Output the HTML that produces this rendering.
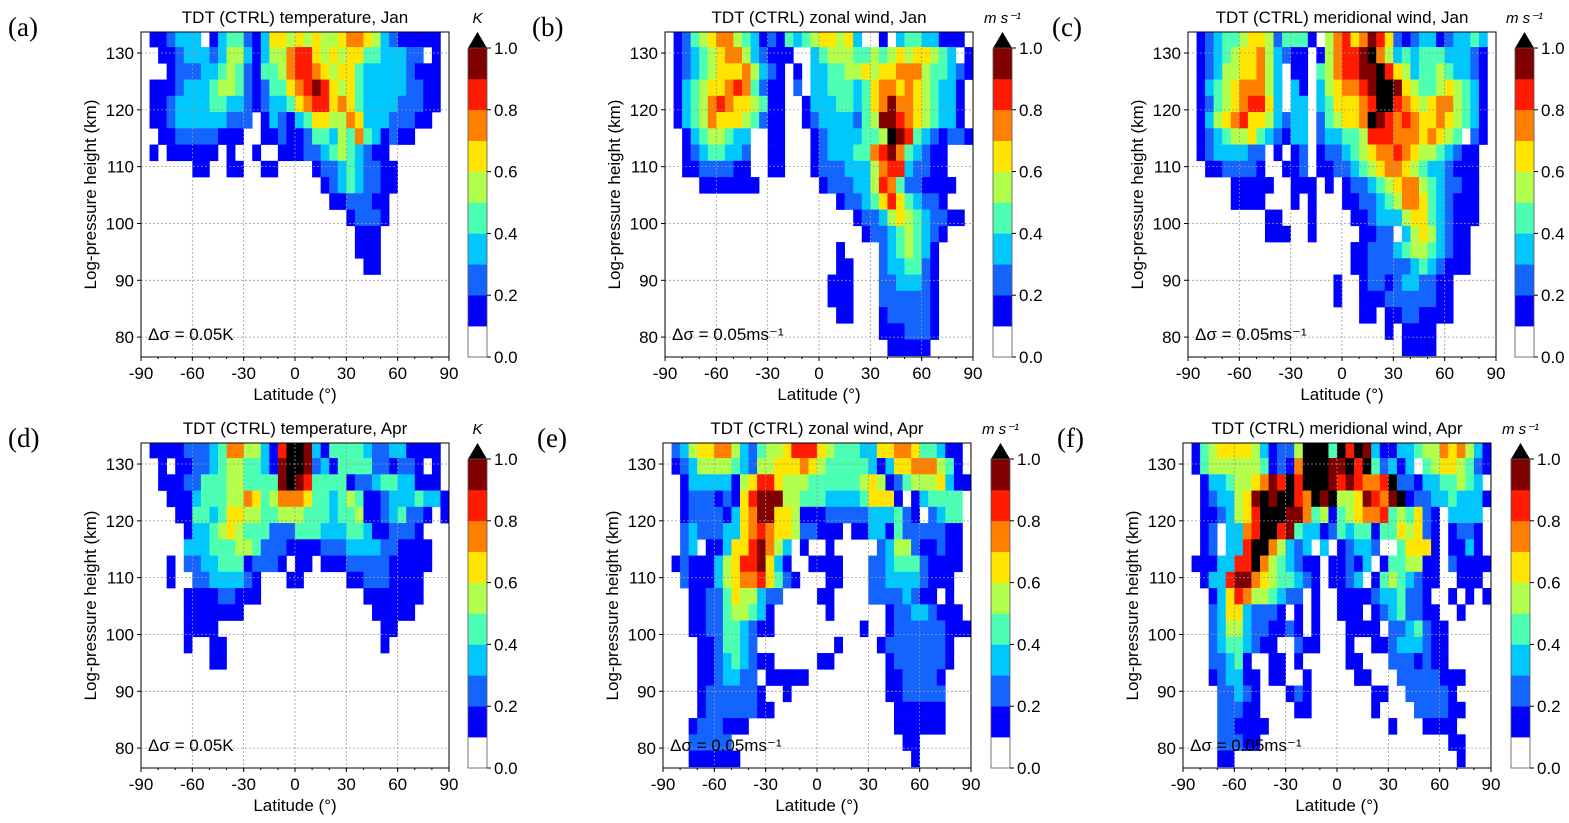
<!DOCTYPE html>
<html><head><meta charset="utf-8">
<style>
body{margin:0;background:#fff;font-family:"Liberation Sans",sans-serif;}
svg{display:block}
</style></head>
<body>
<svg id="fig" width="1569" height="823" xmlns="http://www.w3.org/2000/svg"></svg>
<script>
// ---- data: one string per height row (top to bottom), one char per 5° latitude bin from -85..90
// '.' = no value, 1..9 = decile of colour scale, X = above 1.0
const latEdgesStart = -85;
const latBinWidth = 5;
const heightTop = 133.91;
const heightStep = 2.86;
const cbarTicks = [0.0,0.2,0.4,0.6,0.8,1.0];
const xTicks = [-90,-60,-30,0,30,60,90];
const yTicks = [80,90,100,110,120,130];

const dataA = [
"112333.134421366565655677653211111.",
".1123332355313557886565664433322.1.",
"..12223345421445788765664333332111.",
"1112333455421244678986564333332211.",
"1123333443321233467886764333322211.",
"112333333222.13213466557633322211..",
".1122222111..112112443547431211....",
"1.111111.1..1..1112234543211.......",
".....11..11..11....1223432211......",
"....................123432211......",
".....................1122211.......",
".......................12221.......",
"........................111........",
"........................111........",
".........................11........"];
const dataB = [
"1245677543121434566563..1.34433111.",
"12345677532111..34555445456566543.1",
"1234566675321.1.3344556566777544321",
"1345667874211.2.334443467767654331",
"1345787665411..1333443467977654331",
"1345766654211..1233332459987654331",
".13455433..11...123333445X984321221",
".12344332..11...1233344789743211..",
".11222211..11...1222333578832211..",
"...1111111.......1222335874221111.",
"...................1223468643221...",
".....................1223565432211.",
"......................1223454321...",
"...................1....2345431....",
"...................11...2334421....",
"..................111...2233321....",
"..................111...2222221....",
"...................11...1222221....",
"........................1112221....",
".........................11111....."];
const dataC = [
"12344566524441.5786798621233123343.",
"1234566753211.157889X7534344433321.",
"1235566753.11.4578899X865344543321.",
"1345677753.31.3567789XX96544565431.",
"1245678863.33.3466678XX87656775431.",
"1356786653233.245667X9878766765431.",
"1234556432133.23344588877767654 21.",
"12333322.1.12.1223456778765543211.",
".1122221..112.1122345677654332111.",
"....11111..111.1.1223456775432211..",
"....1111...1.1...1122345776432111..",
"........11...1....112333566432111..",
"........111..1.....1122.35653211...",
"..................11222345543211...",
"..................11222223432111...",
"................1..12212332211.....",
"................1..11122222211.....",
"...................11.11221111.....",
"......................1.1111.......",
"........................1111......."];
const dataD = [
"1111222347755318XX9314444322331111.",
".1.1122345544319XX92314444221221.1.",
".111224445544449X98444412234433111.",
"..111344455764577764434541123334331",
"...114434665544555444344511234221.1",
"....1334565444222444333443112221...",
"....33344455422211112223333221111..",
"..1.223344412221.11.1112222211111..",
"..1..22333321...11.....112221111...",
"....111122111............1111111...",
"....1111111...............11111....",
"....1111...................11......",
"....1..11..................1.......",
".......11.........................."];
const dataE = [
"2356677532455688865444336677644311.",
"1235555432556667654444431366777541.",
".1333331568865554444445651245556311",
".12221216899955444333346661.134444",
".1222213679966511122222333421.2344",
".2322233678766522111.1133142222211.",
".23.1136689753.1..1.....2355211211.",
"12111356889631..1111...22344421111.",
".21113567786421...11...2233332111..",
"..11224655322....11....22223211.1..",
"..1122455431......1......122332111.",
"..1122443211..........1..1222222111",
"...1124432.........1....122222221..",
"...112343211.....11......12222221..",
"...1123322.11111.........1122221...",
"...12222221..1...........1122222...",
"...122222211..............111111...",
"..1222111.................111111...",
"..22222....................11......",
"..111111....................1......"];
const dataF = [
"1456666531225XXX4X8X931133455767531",
"1455555541217XXX99X8X42313.45665421",
".1334556798X8XXX9898778X2213344543.",
".1233569X9XX87X9X5569879X1223343331",
".1123568XXX997451456778454621.3333",
".12.3378XX8943312434414465621.1221.",
".12.338XX75323.3.12332..46661.1131.",
"1113388X7543211.11213.1445511.21111",
".13389976544321.1123.14543211..111.",
"..13687554322.1..11112334221..1.1.1",
"..236632221.1.1..111.12342211..1...",
"..23553221121.1...1111.2234211.....",
"..23443211..211...1..112333211.....",
"..22341..11.1.....11...2221211.....",
"..123311.11..1.....11...22222111...",
"...22321...121.......11..222221....",
"...22211....11.......1....222211...",
"...221111..............1...1111....",
"...22211......................11...",
"...11..........................1..."];

const panels = [
 {id:'a',data:dataA,title:'TDT (CTRL) temperature, Jan',unit:'K',note:'Δσ = 0.05K',x0:141,y0:32,pl:'(a)',plx:8,ply:36,cbx:468},
 {id:'b',data:dataB,title:'TDT (CTRL) zonal wind, Jan',unit:'m s⁻¹',note:'Δσ = 0.05ms⁻¹',x0:665,y0:32,pl:'(b)',plx:532,ply:36,cbx:993},
 {id:'c',data:dataC,title:'TDT (CTRL) meridional wind, Jan',unit:'m s⁻¹',note:'Δσ = 0.05ms⁻¹',x0:1188,y0:32,pl:'(c)',plx:1052,ply:36,cbx:1515},
 {id:'d',data:dataD,title:'TDT (CTRL)  temperature, Apr',unit:'K',note:'Δσ = 0.05K',x0:141,y0:443,pl:'(d)',plx:8,ply:447,cbx:468},
 {id:'e',data:dataE,title:'TDT (CTRL) zonal wind, Apr',unit:'m s⁻¹',note:'Δσ = 0.05ms⁻¹',x0:663,y0:443,pl:'(e)',plx:537,ply:447,cbx:991},
 {id:'f',data:dataF,title:'TDT (CTRL) meridional wind, Apr',unit:'m s⁻¹',note:'Δσ = 0.05ms⁻¹',x0:1183,y0:443,pl:'(f)',plx:1057,ply:447,cbx:1511}
];
const colors = {'1':'#0000ff','2':'#1464ff','3':'#00c8ff','4':'#4dffb3','5':'#b3ff4d','6':'#ffe500','7':'#ff8000','8':'#ff1a00','9':'#800000','X':'#000000'};
const W=308,H=325,HMAX=133.7,HMIN=76.5;
const NS='http://www.w3.org/2000/svg';
const fig=document.getElementById('fig');
function mk(tag,attrs,parent,text){const e=document.createElementNS(NS,tag);for(const k in attrs)e.setAttribute(k,attrs[k]);if(text!==undefined)e.textContent=text;(parent||fig).appendChild(e);return e;}

panels.forEach(p=>{
  const xs=lat=>p.x0+(lat+90)/180*W;
  const ys=h=>p.y0+(HMAX-h)/(HMAX-HMIN)*H;
  const g=mk('g',{});
  
  
  const clipId='clip'+p.id;
  const cp=mk('clipPath',{id:clipId},g);mk('rect',{x:p.x0,y:p.y0,width:W,height:H},cp);
  const cells=mk('g',{'clip-path':'url(#'+clipId+')'},g);
  
  
  p.data.forEach((row,i)=>{
    const hT=heightTop-heightStep*i, hB=hT-heightStep;
    for(let j=0;j<row.length&&j<35;j++){
      const c=row[j]; if(!colors[c])continue;
      const l0=latEdgesStart+latBinWidth*j;
      const r=mk('rect',{x:xs(l0),y:ys(hT),width:xs(l0+latBinWidth)-xs(l0)+0.3,height:ys(hB)-ys(hT)+0.3,fill:colors[c]},cells);
      
      
    }
  });
  xTicks.forEach(t=>{ if(t>-90&&t<90) mk('line',{x1:xs(t),x2:xs(t),y1:p.y0,y2:p.y0+H,stroke:'#999','stroke-width':0.8,'stroke-dasharray':'2,2'},g);});
  yTicks.forEach(t=>{ mk('line',{x1:p.x0,x2:p.x0+W,y1:ys(t),y2:ys(t),stroke:'#999','stroke-width':0.8,'stroke-dasharray':'2,2'},g);});
  const fr=mk('rect',{x:p.x0,y:p.y0,width:W,height:H,fill:'none',stroke:'#000','stroke-width':1},g);
  
  
  xTicks.forEach(t=>{
    mk('line',{x1:xs(t),x2:xs(t),y1:p.y0+H,y2:p.y0+H+4,stroke:'#000'},g);
    const tx=mk('text',{x:xs(t),y:p.y0+H+22,'font-size':17,'text-anchor':'middle'},g,String(t));
    
    
  });
  for(let t=-80;t<=80;t+=10){ mk('line',{x1:xs(t),x2:xs(t),y1:p.y0+H,y2:p.y0+H+2,stroke:'#000'},g);}
  yTicks.forEach(t=>{
    mk('line',{x1:p.x0-4,x2:p.x0,y1:ys(t),y2:ys(t),stroke:'#000'},g);
    const ty=mk('text',{x:p.x0-7,y:ys(t)+6,'font-size':17,'text-anchor':'end'},g,String(t));
    
    
  });
  const xl=mk('text',{x:p.x0+W/2,y:p.y0+H+43,'font-size':17,'text-anchor':'middle'},g,'Latitude (°)');
  
  
  const yl=mk('text',{x:0,y:0,'font-size':17,'text-anchor':'middle',transform:'translate('+(p.x0-45)+','+(p.y0+H/2)+') rotate(-90)'},g,'Log-pressure height (km)');
  
  
  const ti=mk('text',{x:p.x0+W/2,y:p.y0-9,'font-size':17,'text-anchor':'middle'},g,p.title);
  
  
  const nt=mk('text',{x:p.x0+7,y:p.y0+H-17,'font-size':17},g,p.note);
  
  
  const pl=mk('text',{x:p.plx,y:p.ply,'font-size':27,'font-family':'Liberation Serif, serif'},g,p.pl);
  
  
  const cb=mk('g',{},g);
  
  
  const cbTop=p.y0+16, cbBot=p.y0+H, cbW=19;
  const cv=v=>cbBot-(v)*(cbBot-cbTop);
  const keys=['1','2','3','4','5','6','7','8','9'];
  keys.forEach((k,i)=>{ mk('rect',{x:p.cbx,y:cv((i+2)/10),width:cbW,height:cv((i+1)/10)-cv((i+2)/10)+0.3,fill:colors[k]},cb);});
  mk('polygon',{points:p.cbx+','+cbTop+' '+(p.cbx+cbW)+','+cbTop+' '+(p.cbx+cbW/2)+','+p.y0,fill:'#000'},cb);
  mk('rect',{x:p.cbx,y:cbTop,width:cbW,height:cbBot-cbTop,fill:'none',stroke:'#555','stroke-width':0.8},cb);
  cbarTicks.forEach(t=>{
    mk('line',{x1:p.cbx+cbW,x2:p.cbx+cbW+4,y1:cv(t),y2:cv(t),stroke:'#000'},cb);
    const ct=mk('text',{x:p.cbx+cbW+7,y:cv(t)+6,'font-size':17},cb,t.toFixed(1));
    
    
  });
  const un=mk('text',{x:p.cbx+cbW/2,y:p.y0-9,'font-size':15,'font-style':'italic','text-anchor':'middle'},cb,p.unit);
  
  
});
</script>
</body></html>
